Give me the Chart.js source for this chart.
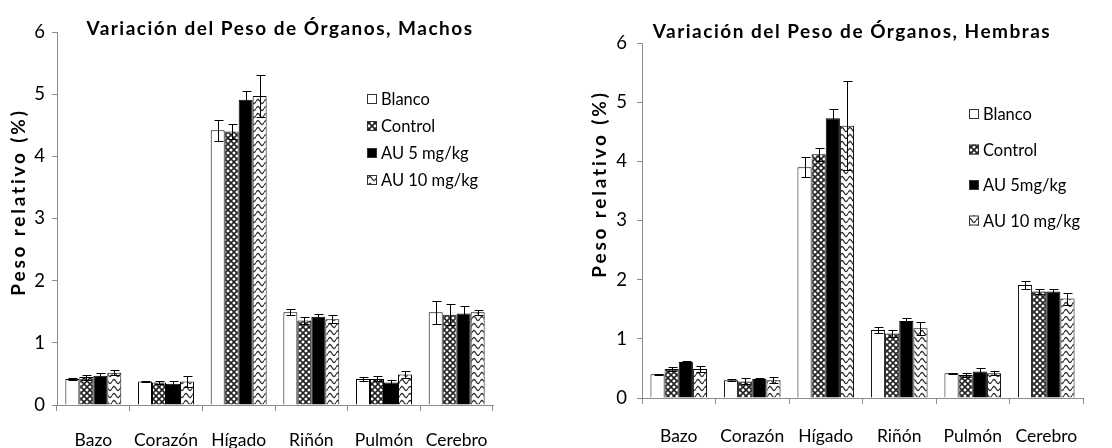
<!DOCTYPE html>
<html>
<head>
<meta charset="utf-8">
<script src="https://cdn.jsdelivr.net/npm/chart.js@4"></script>
<style>
body{margin:0;background:#fff;width:1112px;height:448px;position:relative;overflow:hidden;font-family:Lato,sans-serif}
canvas{position:absolute;top:0}
.title{position:absolute;font:bold 19px Lato;letter-spacing:1.5px;transform:translate(-50%,-50%);white-space:nowrap;color:#000}
</style>
</head>
<body>
<canvas id="machos" width="560" height="448" style="left:0"></canvas>
<canvas id="hembras" width="552" height="448" style="left:560px"></canvas>
<div class="title" style="left:280px;top:27px">Variación del Peso de Órganos, Machos</div>
<div class="title" style="left:852px;top:30px">Variación del Peso de Órganos, Hembras</div>
<script>
var organos = ['Bazo', 'Corazón', 'Hígado', 'Riñón', 'Pulmón', 'Cerebro'];
var yTicks = [0, 1, 2, 3, 4, 5, 6];
var gruposMachos = ['Blanco', 'Control', 'AU 5 mg/kg', 'AU 10 mg/kg'];
var gruposHembras = ['Blanco', 'Control', 'AU 5mg/kg', 'AU 10 mg/kg'];

// machos
var machosBlanco = [0.42, 0.38, 4.42, 1.49, 0.42, 1.49];
var machosControl = [0.45, 0.36, 4.40, 1.36, 0.42, 1.45];
var machosAU5 = [0.47, 0.34, 4.91, 1.42, 0.36, 1.47];
var machosAU10 = [0.52, 0.38, 4.97, 1.38, 0.49, 1.49];
var machosBlancoErr = [0.02, 0.01, 0.17, 0.05, 0.03, 0.19];
var machosControlErr = [0.04, 0.03, 0.12, 0.06, 0.04, 0.17];
var machosAU5Err = [0.04, 0.04, 0.14, 0.05, 0.04, 0.13];
var machosAU10Err = [0.04, 0.09, 0.34, 0.06, 0.05, 0.04];

// hembras
var hembrasBlanco = [0.40, 0.30, 3.90, 1.15, 0.42, 1.91];
var hembrasControl = [0.49, 0.28, 4.12, 1.09, 0.39, 1.80];
var hembrasAU5 = [0.61, 0.32, 4.73, 1.30, 0.45, 1.80];
var hembrasAU10 = [0.49, 0.30, 4.60, 1.18, 0.42, 1.68];
var hembrasBlancoErr = [0.01, 0.02, 0.17, 0.05, 0.01, 0.06];
var hembrasControlErr = [0.03, 0.05, 0.11, 0.06, 0.03, 0.05];
var hembrasAU5Err = [0.01, 0.02, 0.15, 0.06, 0.06, 0.05];
var hembrasAU10Err = [0.05, 0.05, 0.75, 0.11, 0.03, 0.10];

//patterns for the fills
function checkerPattern() {
  var c = document.createElement('canvas');
  c.width = 6; c.height = 6;
  var g = c.getContext('2d');
  g.fillStyle = '#fff';
  g.fillRect(0, 0, 6, 6);
  g.strokeStyle = '#222';
  g.lineWidth = 1.6;
  g.beginPath();
  g.moveTo(-1, -1); g.lineTo(7, 7);
  g.moveTo(7, -1); g.lineTo(-1, 7);
  g.stroke();
  return document.createElement('canvas').getContext('2d').createPattern(c, 'repeat');
}

function wavePattern() {
  var c = document.createElement('canvas');
  c.width = 8; c.height = 7;
  var g = c.getContext('2d');
  g.fillStyle = '#fff';
  g.fillRect(0, 0, 8, 7);
  g.strokeStyle = '#333';
  g.lineWidth = 1.3;
  g.beginPath();
  for (var x = 0; x <= 8; x += 0.5) {
    var y = 3.5 - 2 * Math.sin(x / 8 * Math.PI * 2);
    if (x === 0) g.moveTo(x, y); else g.lineTo(x, y);
  }
  g.stroke();
  return document.createElement('canvas').getContext('2d').createPattern(c, 'repeat');
}

var fills = ['#fff', checkerPattern(), '#000', wavePattern()];

var errorBars = {
  id: 'errorBars',
  afterDatasetsDraw: function(chart) {
    var ctx = chart.ctx, y = chart.scales.y;
    ctx.save();
    ctx.strokeStyle = '#000';
    ctx.lineWidth = 1;
    chart.data.datasets.forEach(function(ds, i) {
      chart.getDatasetMeta(i).data.forEach(function(bar, j) {
        var v = ds.data[j], e = ds.errors[j];
        var x = Math.round(bar.x) + 0.5;
        var top = Math.round(y.getPixelForValue(v + e)) + 0.5;
        var bot = Math.round(y.getPixelForValue(v - e)) + 0.5;
        ctx.beginPath();
        ctx.moveTo(x, top); ctx.lineTo(x, bot);
        ctx.moveTo(x - 4, top); ctx.lineTo(x + 5, top);
        ctx.moveTo(x - 4, bot); ctx.lineTo(x + 5, bot);
        ctx.stroke();
      });
    });
    ctx.restore();
  }
};

var boxLegend = {
  id: 'boxLegend',
  afterDraw: function(chart, args, o) {
    var ctx = chart.ctx;
    ctx.save();
    ctx.font = '16.5px Lato';
    ctx.textBaseline = 'middle';
    chart.data.datasets.forEach(function(ds, i) {
      var cy = o.top + i * o.step;
      ctx.fillStyle = ds.backgroundColor;
      ctx.fillRect(o.left, cy - 5, 10, 10);
      ctx.strokeStyle = '#333';
      ctx.lineWidth = 1;
      ctx.strokeRect(o.left + 0.5, cy - 4.5, 9, 9);
      ctx.fillStyle = '#000';
      ctx.fillText(ds.label, o.left + 14, cy + 1);
    });
    ctx.restore();
  }
};

var yTitle = {
  id: 'yTitle',
  afterDraw: function(chart, args, o) {
    var ctx = chart.ctx;
    ctx.save();
    ctx.font = 'bold 19px Lato';
    ctx.letterSpacing = o.spacing + 'px';
    ctx.fillStyle = '#000';
    ctx.textAlign = 'center';
    ctx.textBaseline = 'middle';
    ctx.translate(o.x, o.y);
    ctx.rotate(-Math.PI / 2);
    ctx.fillText(o.text, 0, 0);
    ctx.restore();
  }
};

function makeChart(id, grupos, series, errs, lay) {
  var datasets = grupos.map(function(g, i) {
    return {
      label: g,
      data: series[i],
      errors: errs[i],
      backgroundColor: fills[i],
      borderColor: '#000',
      borderWidth: 1,
      barPercentage: 1,
      categoryPercentage: 0.77
    };
  });
  return new Chart(document.getElementById(id), {
    type: 'bar',
    data: { labels: organos, datasets: datasets },
    options: {
      responsive: false,
      animation: false,
      devicePixelRatio: 1,
      layout: { padding: { top: lay.top, right: lay.right, left: 0, bottom: 0 } },
      scales: {
        x: {
          grid: { drawOnChartArea: false, offset: true, tickLength: 6, color: '#8c8c8c' },
          border: { color: '#8c8c8c' },
          ticks: { font: { family: 'Lato', size: 17.5 }, color: '#000', padding: lay.xPad, maxRotation: 0, autoSkip: false },
          afterFit: function(s) { s.height = lay.xH; }
        },
        y: {
          min: yTicks[0], max: yTicks[yTicks.length - 1],
          afterBuildTicks: function(s) { s.ticks = yTicks.map(function(v) { return { value: v }; }); },
          grid: { drawOnChartArea: false, tickLength: 5, color: '#8c8c8c' },
          border: { color: '#8c8c8c' },
          ticks: { font: { family: 'Lato', size: 18.5 }, color: '#000', padding: lay.yPad },
          afterFit: function(s) { s.width = lay.yW; }
        }
      },
      plugins: {
        legend: { display: false },
        tooltip: { enabled: false },
        boxLegend: lay.legend,
        yTitle: lay.yTitle
      }
    },
    plugins: [errorBars, boxLegend, yTitle]
  });
}

makeChart('machos', gruposMachos,
  [machosBlanco, machosControl, machosAU5, machosAU10],
  [machosBlancoErr, machosControlErr, machosAU5Err, machosAU10Err],
  { top: 32, right: 67, yW: 57, xH: 43, xPad: 19, yPad: 7,
    legend: { left: 367, top: 99, step: 27 },
    yTitle: { text: 'Peso relativo (%)', x: 19, y: 202, spacing: 2.8 } });

makeChart('hembras', gruposHembras,
  [hembrasBlanco, hembrasControl, hembrasAU5, hembrasAU10],
  [hembrasBlancoErr, hembrasControlErr, hembrasAU5Err, hembrasAU10Err],
  { top: 43, right: 29, yW: 82, xH: 50, xPad: 22, yPad: 10,
    legend: { left: 409, top: 114, step: 35.5 },
    yTitle: { text: 'Peso relativo (%)', x: 40, y: 184, spacing: 2.8 } });
</script>
</body>
</html>
